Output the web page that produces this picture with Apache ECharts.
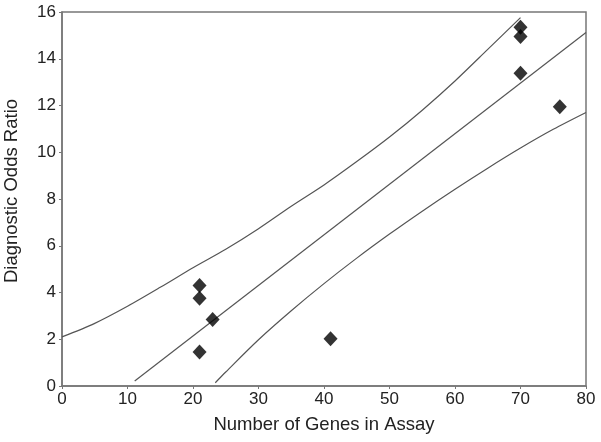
<!DOCTYPE html>
<html>
<head>
<meta charset="utf-8">
<script src="https://cdn.jsdelivr.net/npm/echarts@6/dist/echarts.min.js"></script>
<style>
    html, body { margin: 0; padding: 0; background: #fff; }
    #chart { width: 601px; height: 442px; }
</style>
</head>
<body>
<div id="chart"></div>
<script>
// 散点 (基因数, 诊断比值比)
var genes = [21, 21, 23, 21, 41, 70, 70, 70, 76];
var odds = [4.3, 3.75, 2.85, 1.45, 2.02, 15.35, 14.95, 13.38, 11.95];

// 回归线 端点
var fitX = [11.1, 80];
var fitY = [0.21, 15.12];

// 置信带 上
var upperX = [0, 5, 10, 15, 20, 25, 30, 35, 40, 45, 50, 55, 60, 65, 70];
var upperY = [2.1, 2.68, 3.41, 4.22, 5.06, 5.85, 6.73, 7.69, 8.6, 9.6, 10.65, 11.8, 13.05, 14.4, 15.76];

// 置信带 下
var lowerX = [23.4, 25, 30, 35, 40, 45, 50, 55, 60, 65, 70, 75, 80];
var lowerY = [0.14, 0.6, 1.98, 3.22, 4.38, 5.47, 6.5, 7.48, 8.42, 9.32, 10.18, 10.98, 11.7];

var xTicks = [0, 10, 20, 30, 40, 50, 60, 70, 80];
var yTicks = [0, 2, 4, 6, 8, 10, 12, 14, 16];

function pairs(xs, ys) {
    var out = [];
    for (var i = 0; i < xs.length; i++) {
        out.push([xs[i], ys[i]]);
    }
    return out;
}

var font = "'Liberation Sans', Arial, Helvetica, sans-serif";
var axisColor = '#777';
var lineStyle = { color: '#555', width: 1.2 };

var myChart = echarts.init(document.getElementById('chart'));
var option = {
    animation: false,
    grid: {
        left: 62, right: 15, top: 12, bottom: 56,
        containLabel: false, outerBoundsMode: 'none',
        show: true, borderColor: axisColor, borderWidth: 1.5
    },
    xAxis: {
        type: 'value',
        min: xTicks[0], max: xTicks[xTicks.length - 1], interval: 10,
        name: 'Number of Genes in Assay',
        nameLocation: 'middle', nameGap: 29,
        nameTextStyle: { fontFamily: font, fontSize: 18.5, color: '#222' },
        axisLine: { show: true, lineStyle: { color: axisColor, width: 1.5 } },
        axisTick: { show: true, length: 3, lineStyle: { color: axisColor } },
        axisLabel: { fontFamily: font, fontSize: 17, color: '#222', margin: 5 },
        splitLine: { show: false }
    },
    yAxis: {
        type: 'value',
        min: yTicks[0], max: yTicks[yTicks.length - 1], interval: 2,
        name: 'Diagnostic Odds Ratio',
        nameLocation: 'middle', nameGap: 41,
        nameTextStyle: { fontFamily: font, fontSize: 18.5, color: '#222', padding: [0, 0, 0, 16] },
        axisLine: { show: true, lineStyle: { color: axisColor, width: 1.5 } },
        axisTick: { show: true, length: 3, lineStyle: { color: axisColor } },
        axisLabel: { fontFamily: font, fontSize: 17, color: '#222', margin: 6 },
        splitLine: { show: false }
    },
    series: [
        {
            type: 'line', data: pairs(upperX, upperY), smooth: 0.3,
            showSymbol: false, lineStyle: lineStyle, z: 2
        },
        {
            type: 'line', data: pairs(fitX, fitY),
            showSymbol: false, lineStyle: lineStyle, z: 2
        },
        {
            type: 'line', data: pairs(lowerX, lowerY), smooth: 0.3,
            showSymbol: false, lineStyle: lineStyle, z: 2
        },
        {
            type: 'scatter', data: pairs(genes, odds),
            symbol: 'diamond', symbolSize: [14, 15],
            itemStyle: { color: '#000' }, z: 3
        }
    ]
};
myChart.setOption(option);
</script>
</body>
</html>
